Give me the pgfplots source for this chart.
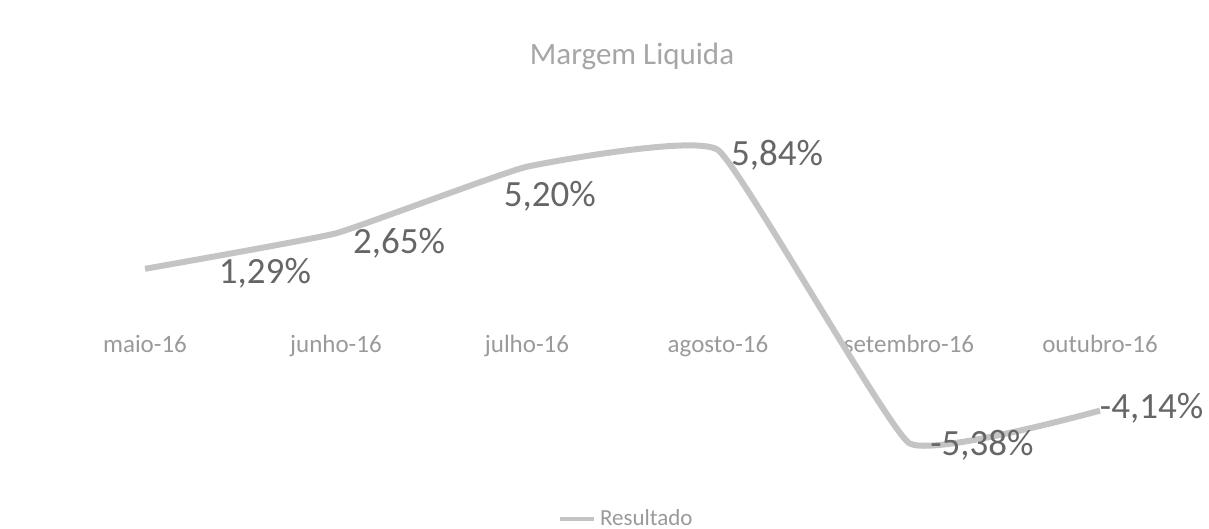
\documentclass[border=0pt]{standalone}
\usepackage{pgfplots}
\pgfplotsset{compat=1.18}
\usepackage{fontspec}
\setmainfont{Carlito}
\definecolor{linegray}{HTML}{C4C4C4}
\definecolor{labgray}{HTML}{666666}
\definecolor{tickgray}{HTML}{9A9A9A}
\definecolor{titlegray}{HTML}{A6A6A6}
\begin{document}
\begin{tikzpicture}
\useasboundingbox (0,0) rectangle (604.5pt,264.5pt);
\begin{axis}[
  at={(72.5pt,43pt)}, anchor=south west,
  scale only axis, width=477.5pt, height=146.5pt,
  xmin=0, xmax=5, ymin=-5.38, ymax=5.84,
  clip=false,
  axis line style={draw=none},
  major tick length=0pt,
  ytick=\empty,
  xtick={0,1,2,3,4,5},
  xticklabels={maio-16,junho-16,julho-16,agosto-16,setembro-16,outubro-16},
  xticklabel style={font=\fontsize{12.5}{14}\selectfont, text=tickgray, anchor=base, yshift=45pt},
  title={Margem Liquida},
  title style={at={(0.51,1.28)}, anchor=center, font=\fontsize{15.5}{17}\selectfont, text=titlegray},
  legend style={at={(0.505,-0.26)}, anchor=center, draw=none, fill=none,
    font=\fontsize{11.5}{12}\selectfont, text=tickgray},
  legend image post style={line width=2pt},
]
\addplot[color=linegray, line width=3pt, smooth, tension=0.2]
  coordinates {(0,1.29) (1,2.65) (2,5.20) (3,5.84) (4,-5.38) (5,-4.14)};
\addlegendentry{Resultado}
% data labels (positions of the label text, value text as meta)
\addplot[draw=none, mark=none, forget plot,
  nodes near coords, point meta=explicit symbolic,
  every node near coord/.style={anchor=center, text=labgray, font=\fontsize{18.5}{21}\selectfont}]
  table[meta=lab] {
x y lab
0.628 1.13 1,29\%
1.330 2.28 2,65\%
2.120 4.08 5,20\%
3.309 5.65 5,84\%
4.382 -5.46 -5,38\%
5.270 -4.04 -4,14\%
};
\end{axis}
\end{tikzpicture}
\end{document}
